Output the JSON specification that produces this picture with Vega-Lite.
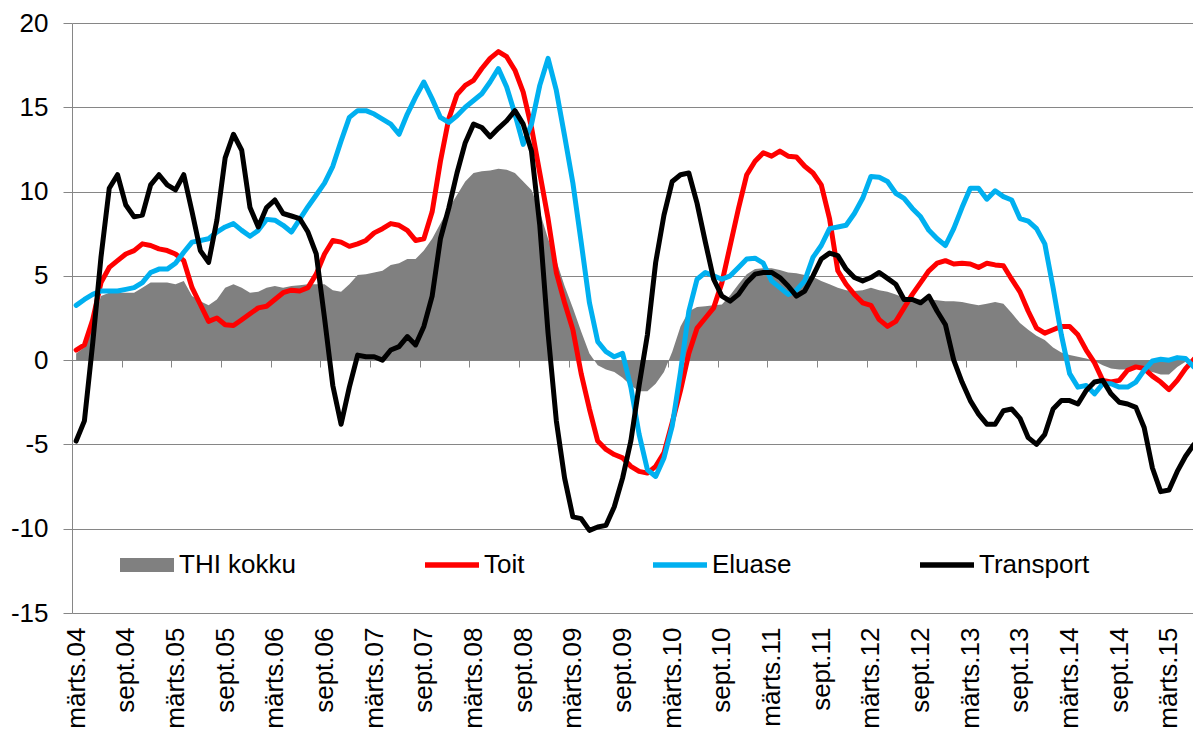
{
"$schema":"https://vega.github.io/schema/vega-lite/v6.json",
"width":1121,"height":590,
"autosize":{"type":"none"},
"padding":{"left":72,"top":23,"right":0,"bottom":117},
"background":"white",
"config":{"view":{"stroke":null},"font":"Liberation Sans"},
"data":{"values":[
{"i":0,"THI kokku":0.4,"Toit":0.6,"Eluase":3.25,"Transport":-4.8},
{"i":1,"THI kokku":0.75,"Toit":0.9,"Eluase":3.6,"Transport":-3.6},
{"i":2,"THI kokku":2.2,"Toit":2.4,"Eluase":3.9,"Transport":1.0},
{"i":3,"THI kokku":3.8,"Toit":4.6,"Eluase":4.1,"Transport":6.1},
{"i":4,"THI kokku":4.0,"Toit":5.5,"Eluase":4.1,"Transport":10.2},
{"i":5,"THI kokku":4.0,"Toit":5.9,"Eluase":4.1,"Transport":11.0},
{"i":6,"THI kokku":4.0,"Toit":6.3,"Eluase":4.2,"Transport":9.2},
{"i":7,"THI kokku":4.0,"Toit":6.5,"Eluase":4.3,"Transport":8.5},
{"i":8,"THI kokku":4.3,"Toit":6.9,"Eluase":4.6,"Transport":8.6},
{"i":9,"THI kokku":4.6,"Toit":6.8,"Eluase":5.2,"Transport":10.4},
{"i":10,"THI kokku":4.6,"Toit":6.6,"Eluase":5.4,"Transport":11.0},
{"i":11,"THI kokku":4.6,"Toit":6.5,"Eluase":5.4,"Transport":10.4},
{"i":12,"THI kokku":4.5,"Toit":6.3,"Eluase":5.75,"Transport":10.1},
{"i":13,"THI kokku":4.7,"Toit":5.9,"Eluase":6.4,"Transport":11.0},
{"i":14,"THI kokku":3.8,"Toit":4.3,"Eluase":7.0,"Transport":8.8},
{"i":15,"THI kokku":3.5,"Toit":3.3,"Eluase":7.1,"Transport":6.5},
{"i":16,"THI kokku":3.25,"Toit":2.3,"Eluase":7.2,"Transport":5.8},
{"i":17,"THI kokku":3.6,"Toit":2.5,"Eluase":7.6,"Transport":8.3},
{"i":18,"THI kokku":4.3,"Toit":2.1,"Eluase":7.9,"Transport":12.0},
{"i":19,"THI kokku":4.5,"Toit":2.05,"Eluase":8.1,"Transport":13.4},
{"i":20,"THI kokku":4.3,"Toit":2.4,"Eluase":7.7,"Transport":12.45},
{"i":21,"THI kokku":4.0,"Toit":2.75,"Eluase":7.35,"Transport":9.05},
{"i":22,"THI kokku":4.05,"Toit":3.1,"Eluase":7.7,"Transport":7.9},
{"i":23,"THI kokku":4.3,"Toit":3.2,"Eluase":8.35,"Transport":9.05},
{"i":24,"THI kokku":4.4,"Toit":3.6,"Eluase":8.3,"Transport":9.5},
{"i":25,"THI kokku":4.3,"Toit":4.0,"Eluase":8.0,"Transport":8.7},
{"i":26,"THI kokku":4.4,"Toit":4.15,"Eluase":7.6,"Transport":8.55},
{"i":27,"THI kokku":4.45,"Toit":4.1,"Eluase":8.35,"Transport":8.4},
{"i":28,"THI kokku":4.5,"Toit":4.3,"Eluase":9.1,"Transport":7.6},
{"i":29,"THI kokku":4.5,"Toit":5.1,"Eluase":9.8,"Transport":6.3},
{"i":30,"THI kokku":4.5,"Toit":6.3,"Eluase":10.5,"Transport":2.5},
{"i":31,"THI kokku":4.15,"Toit":7.1,"Eluase":11.5,"Transport":-1.5},
{"i":32,"THI kokku":4.05,"Toit":7.0,"Eluase":13.0,"Transport":-3.8},
{"i":33,"THI kokku":4.5,"Toit":6.75,"Eluase":14.4,"Transport":-1.6},
{"i":34,"THI kokku":5.05,"Toit":6.9,"Eluase":14.8,"Transport":0.3},
{"i":35,"THI kokku":5.1,"Toit":7.1,"Eluase":14.8,"Transport":0.2},
{"i":36,"THI kokku":5.2,"Toit":7.55,"Eluase":14.6,"Transport":0.2},
{"i":37,"THI kokku":5.3,"Toit":7.8,"Eluase":14.3,"Transport":0.0},
{"i":38,"THI kokku":5.65,"Toit":8.1,"Eluase":14.0,"Transport":0.6},
{"i":39,"THI kokku":5.75,"Toit":8.0,"Eluase":13.4,"Transport":0.8},
{"i":40,"THI kokku":6.0,"Toit":7.7,"Eluase":14.6,"Transport":1.4},
{"i":41,"THI kokku":6.0,"Toit":7.1,"Eluase":15.6,"Transport":0.9},
{"i":42,"THI kokku":6.5,"Toit":7.2,"Eluase":16.5,"Transport":2.0},
{"i":43,"THI kokku":7.2,"Toit":8.8,"Eluase":15.5,"Transport":3.8},
{"i":44,"THI kokku":8.1,"Toit":11.8,"Eluase":14.4,"Transport":7.2},
{"i":45,"THI kokku":9.0,"Toit":14.3,"Eluase":14.1,"Transport":9.0},
{"i":46,"THI kokku":9.8,"Toit":15.75,"Eluase":14.5,"Transport":11.1},
{"i":47,"THI kokku":10.6,"Toit":16.3,"Eluase":15.0,"Transport":12.9},
{"i":48,"THI kokku":11.1,"Toit":16.6,"Eluase":15.4,"Transport":14.0},
{"i":49,"THI kokku":11.2,"Toit":17.3,"Eluase":15.8,"Transport":13.8},
{"i":50,"THI kokku":11.25,"Toit":17.9,"Eluase":16.5,"Transport":13.25},
{"i":51,"THI kokku":11.35,"Toit":18.3,"Eluase":17.3,"Transport":13.75},
{"i":52,"THI kokku":11.3,"Toit":18.0,"Eluase":16.2,"Transport":14.2},
{"i":53,"THI kokku":11.1,"Toit":17.2,"Eluase":14.6,"Transport":14.8},
{"i":54,"THI kokku":10.6,"Toit":15.9,"Eluase":12.8,"Transport":14.0},
{"i":55,"THI kokku":10.1,"Toit":13.8,"Eluase":14.0,"Transport":12.4},
{"i":56,"THI kokku":8.8,"Toit":11.1,"Eluase":16.3,"Transport":8.0},
{"i":57,"THI kokku":7.2,"Toit":8.4,"Eluase":17.9,"Transport":1.6},
{"i":58,"THI kokku":5.9,"Toit":5.2,"Eluase":16.0,"Transport":-3.6},
{"i":59,"THI kokku":4.4,"Toit":3.4,"Eluase":13.3,"Transport":-7.0},
{"i":60,"THI kokku":3.1,"Toit":1.8,"Eluase":10.5,"Transport":-9.3},
{"i":61,"THI kokku":1.7,"Toit":-0.8,"Eluase":7.0,"Transport":-9.4},
{"i":62,"THI kokku":0.4,"Toit":-2.9,"Eluase":3.4,"Transport":-10.1},
{"i":63,"THI kokku":-0.3,"Toit":-4.8,"Eluase":1.1,"Transport":-9.9},
{"i":64,"THI kokku":-0.55,"Toit":-5.3,"Eluase":0.5,"Transport":-9.8},
{"i":65,"THI kokku":-0.7,"Toit":-5.6,"Eluase":0.2,"Transport":-8.7},
{"i":66,"THI kokku":-1.05,"Toit":-5.8,"Eluase":0.4,"Transport":-7.0},
{"i":67,"THI kokku":-1.5,"Toit":-6.3,"Eluase":-1.6,"Transport":-4.8},
{"i":68,"THI kokku":-1.85,"Toit":-6.6,"Eluase":-4.4,"Transport":-1.5},
{"i":69,"THI kokku":-1.85,"Toit":-6.7,"Eluase":-6.5,"Transport":1.5},
{"i":70,"THI kokku":-1.4,"Toit":-6.3,"Eluase":-6.9,"Transport":5.8},
{"i":71,"THI kokku":-0.7,"Toit":-5.5,"Eluase":-5.8,"Transport":8.6},
{"i":72,"THI kokku":0.5,"Toit":-3.7,"Eluase":-3.9,"Transport":10.6},
{"i":73,"THI kokku":2.0,"Toit":-1.8,"Eluase":-0.7,"Transport":11.0},
{"i":74,"THI kokku":2.9,"Toit":0.4,"Eluase":2.9,"Transport":11.1},
{"i":75,"THI kokku":3.15,"Toit":1.9,"Eluase":4.8,"Transport":9.3},
{"i":76,"THI kokku":3.2,"Toit":2.5,"Eluase":5.2,"Transport":7.0},
{"i":77,"THI kokku":3.25,"Toit":3.1,"Eluase":5.0,"Transport":4.8},
{"i":78,"THI kokku":3.3,"Toit":4.6,"Eluase":4.8,"Transport":3.8},
{"i":79,"THI kokku":3.85,"Toit":6.8,"Eluase":5.0,"Transport":3.5},
{"i":80,"THI kokku":4.5,"Toit":9.0,"Eluase":5.5,"Transport":3.9},
{"i":81,"THI kokku":5.1,"Toit":11.0,"Eluase":6.0,"Transport":4.6},
{"i":82,"THI kokku":5.4,"Toit":11.8,"Eluase":6.05,"Transport":5.1},
{"i":83,"THI kokku":5.45,"Toit":12.3,"Eluase":5.75,"Transport":5.2},
{"i":84,"THI kokku":5.45,"Toit":12.1,"Eluase":4.7,"Transport":5.2},
{"i":85,"THI kokku":5.35,"Toit":12.4,"Eluase":4.3,"Transport":4.9},
{"i":86,"THI kokku":5.2,"Toit":12.1,"Eluase":3.9,"Transport":4.4},
{"i":87,"THI kokku":5.15,"Toit":12.05,"Eluase":4.15,"Transport":3.8},
{"i":88,"THI kokku":5.05,"Toit":11.5,"Eluase":4.7,"Transport":4.1},
{"i":89,"THI kokku":4.95,"Toit":11.1,"Eluase":6.1,"Transport":5.0},
{"i":90,"THI kokku":4.7,"Toit":10.4,"Eluase":6.8,"Transport":6.0},
{"i":91,"THI kokku":4.5,"Toit":8.4,"Eluase":7.8,"Transport":6.35},
{"i":92,"THI kokku":4.3,"Toit":5.3,"Eluase":7.9,"Transport":6.2},
{"i":93,"THI kokku":4.15,"Toit":4.5,"Eluase":8.0,"Transport":5.4},
{"i":94,"THI kokku":4.1,"Toit":3.9,"Eluase":8.7,"Transport":4.9},
{"i":95,"THI kokku":4.15,"Toit":3.4,"Eluase":9.6,"Transport":4.7},
{"i":96,"THI kokku":4.3,"Toit":3.25,"Eluase":10.9,"Transport":4.9},
{"i":97,"THI kokku":4.15,"Toit":2.4,"Eluase":10.85,"Transport":5.2},
{"i":98,"THI kokku":4.05,"Toit":2.0,"Eluase":10.6,"Transport":4.85},
{"i":99,"THI kokku":3.9,"Toit":2.3,"Eluase":9.9,"Transport":4.5},
{"i":100,"THI kokku":3.7,"Toit":3.1,"Eluase":9.6,"Transport":3.6},
{"i":101,"THI kokku":3.6,"Toit":3.9,"Eluase":9.0,"Transport":3.6},
{"i":102,"THI kokku":3.6,"Toit":4.6,"Eluase":8.5,"Transport":3.4},
{"i":103,"THI kokku":3.6,"Toit":5.3,"Eluase":7.7,"Transport":3.8},
{"i":104,"THI kokku":3.55,"Toit":5.75,"Eluase":7.2,"Transport":2.9},
{"i":105,"THI kokku":3.5,"Toit":5.9,"Eluase":6.8,"Transport":2.1},
{"i":106,"THI kokku":3.5,"Toit":5.7,"Eluase":7.8,"Transport":0.0},
{"i":107,"THI kokku":3.45,"Toit":5.75,"Eluase":9.05,"Transport":-1.3},
{"i":108,"THI kokku":3.35,"Toit":5.7,"Eluase":10.2,"Transport":-2.4},
{"i":109,"THI kokku":3.25,"Toit":5.5,"Eluase":10.2,"Transport":-3.2},
{"i":110,"THI kokku":3.35,"Toit":5.75,"Eluase":9.55,"Transport":-3.8},
{"i":111,"THI kokku":3.45,"Toit":5.65,"Eluase":10.05,"Transport":-3.8},
{"i":112,"THI kokku":3.35,"Toit":5.6,"Eluase":9.7,"Transport":-3.0},
{"i":113,"THI kokku":2.8,"Toit":4.8,"Eluase":9.5,"Transport":-2.9},
{"i":114,"THI kokku":2.2,"Toit":4.05,"Eluase":8.4,"Transport":-3.45},
{"i":115,"THI kokku":1.8,"Toit":2.9,"Eluase":8.25,"Transport":-4.6},
{"i":116,"THI kokku":1.45,"Toit":1.9,"Eluase":7.8,"Transport":-5.0},
{"i":117,"THI kokku":1.2,"Toit":1.6,"Eluase":6.9,"Transport":-4.4},
{"i":118,"THI kokku":0.75,"Toit":1.8,"Eluase":4.3,"Transport":-2.9},
{"i":119,"THI kokku":0.45,"Toit":2.0,"Eluase":1.5,"Transport":-2.4},
{"i":120,"THI kokku":0.3,"Toit":2.0,"Eluase":-0.8,"Transport":-2.4},
{"i":121,"THI kokku":0.2,"Toit":1.5,"Eluase":-1.6,"Transport":-2.6},
{"i":122,"THI kokku":0.1,"Toit":0.6,"Eluase":-1.5,"Transport":-1.8},
{"i":123,"THI kokku":-0.05,"Toit":-0.15,"Eluase":-2.0,"Transport":-1.3},
{"i":124,"THI kokku":-0.3,"Toit":-1.2,"Eluase":-1.4,"Transport":-1.2},
{"i":125,"THI kokku":-0.5,"Toit":-1.3,"Eluase":-1.4,"Transport":-2.0},
{"i":126,"THI kokku":-0.55,"Toit":-1.2,"Eluase":-1.6,"Transport":-2.5},
{"i":127,"THI kokku":-0.55,"Toit":-0.6,"Eluase":-1.6,"Transport":-2.6},
{"i":128,"THI kokku":-0.5,"Toit":-0.4,"Eluase":-1.3,"Transport":-2.8},
{"i":129,"THI kokku":-0.6,"Toit":-0.5,"Eluase":-0.6,"Transport":-4.0},
{"i":130,"THI kokku":-0.7,"Toit":-0.95,"Eluase":-0.05,"Transport":-6.4},
{"i":131,"THI kokku":-0.85,"Toit":-1.3,"Eluase":0.05,"Transport":-7.8},
{"i":132,"THI kokku":-0.85,"Toit":-1.75,"Eluase":0.0,"Transport":-7.7},
{"i":133,"THI kokku":-0.4,"Toit":-1.2,"Eluase":0.15,"Transport":-6.6},
{"i":134,"THI kokku":-0.1,"Toit":-0.5,"Eluase":0.1,"Transport":-5.7},
{"i":135,"THI kokku":0.0,"Toit":0.05,"Eluase":-0.4,"Transport":-5.0}
]},
"transform":[{"fold":["THI kokku","Toit","Eluase","Transport"],"as":["series","value"]}],
"encoding":{
  "y":{"field":"value","type":"quantitative","scale":{"domain":[-15,20],"nice":false,"zero":false},
    "axis":{"title":null,"values":[-15,-10,-5,0,5,10,15,20],"labelExpr":"'' + datum.value","grid":true,"gridColor":"#868686","gridWidth":1,"domain":true,"domainColor":"#868686","tickColor":"#868686","tickSize":9,"labelFontSize":26,"labelFont":"Liberation Sans","labelColor":"#000000","labelPadding":15}},
  "color":{"field":"series","type":"nominal",
    "scale":{"domain":["THI kokku","Toit","Eluase","Transport"],"range":["#808080","#FF0000","#00B0F0","#000000"]},
    "legend":{"title":null,"orient":"none","legendX":48,"legendY":515,"direction":"horizontal","columns":4,"padding":0,
      "labelFontSize":26,"labelFont":"Liberation Sans","labelColor":"#000000","labelOffset":5,"columnPadding":128,
      "symbolSize":2916,"symbolType":"square","symbolStrokeWidth":0,
      "encode":{"symbols":{"update":{
        "shape":{"signal":"datum.value === 'THI kokku' ? 'M-1,-0.26H1V0.26H-1Z' : 'M-1,-0.1H1V0.1H-1Z'"},
        "fill":{"scale":"color","field":"value"},
        "stroke":{"value":"transparent"},
        "strokeWidth":{"value":0},
        "opacity":{"value":1}}}}}}
},
"layer":[
  {"transform":[{"filter":"datum.series === 'THI kokku'"}],
   "mark":{"type":"area","opacity":1},
   "encoding":{
     "x":{"field":"i","type":"quantitative","scale":{"domain":[-0.5,134.9],"nice":false,"zero":false},
       "axis":{"title":null,"values":[0,6,12,18,24,30,36,42,48,54,60,66,72,78,84,90,96,102,108,114,120,126,132],
         "labelExpr":"(datum.value % 12 === 0 ? 'märts.' : 'sept.') + (floor(datum.value / 12) + 4 < 10 ? '0' : '') + (floor(datum.value / 12) + 4)",
         "labelAngle":270,"labelFontSize":26,"labelFont":"Liberation Sans","labelColor":"#000000","labelPadding":14,
         "ticks":false,"tickSize":0,"domain":false,"grid":false,"labelOverlap":false}},
     "y2":{"datum":0}}},
  {"transform":[{"filter":"datum.series !== 'THI kokku'"}],
   "mark":{"type":"line","strokeWidth":5,"strokeJoin":"round","strokeCap":"round"},
   "encoding":{
     "x":{"field":"i","type":"quantitative",
       "axis":{"title":null,"orient":"bottom","offset":-253,"labels":false,"ticks":true,"tickSize":7,"tickColor":"#868686","domain":true,"domainColor":"#868686","grid":false,
         "values":[-0.5,5.5,11.5,17.5,23.5,29.5,35.5,41.5,47.5,53.5,59.5,65.5,71.5,77.5,83.5,89.5,95.5,101.5,107.5,113.5,119.5,125.5,131.5]}}}}
],
"resolve":{"axis":{"x":"independent"}}
}
